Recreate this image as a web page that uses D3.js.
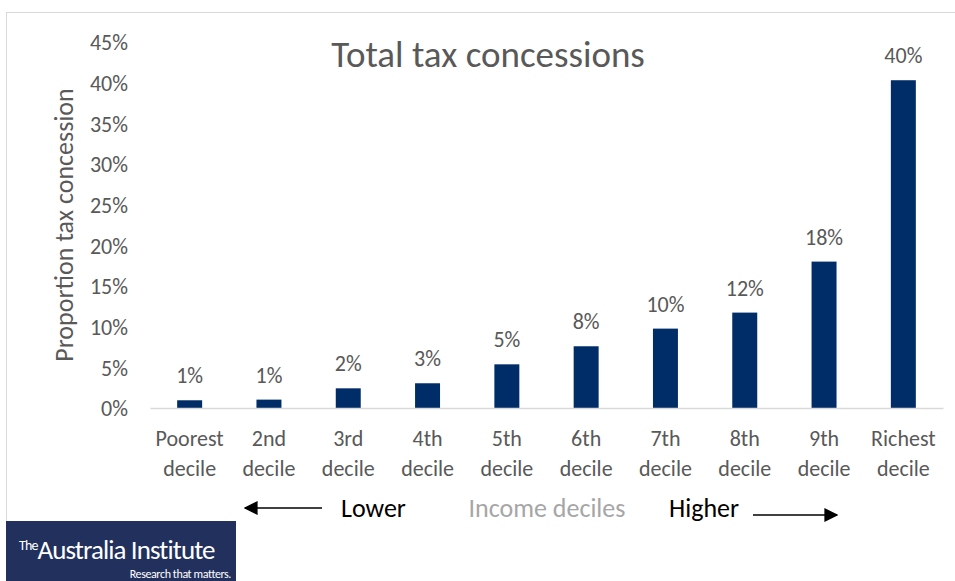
<!DOCTYPE html>
<html>
<head>
<meta charset="utf-8">
<script src="https://cdn.jsdelivr.net/npm/d3@7"></script>
<style>
  body { margin: 0; background: #fff; }
  svg text { font-family: Carlito, Calibri, Lato, sans-serif; }
</style>
</head>
<body>
<div id="chart"></div>
<script>
var categories = ["Poorest decile", "2nd decile", "3rd decile", "4th decile", "5th decile",
                  "6th decile", "7th decile", "8th decile", "9th decile", "Richest decile"];
var shares = [0.0095, 0.0103, 0.0242, 0.0304, 0.0537, 0.0759, 0.0976, 0.1173, 0.180, 0.403];
var yTicks = [0, 0.05, 0.10, 0.15, 0.20, 0.25, 0.30, 0.35, 0.40, 0.45];

var W = 955, H = 581;
var plotLeft = 150, plotRight = 943, plotTop = 42, base = 408;
var grey = "#595959", navy = "#002d67";

var svg = d3.select("#chart").append("svg")
    .attr("width", W)
    .attr("height", H);

// chart frame
svg.append("rect")
    .attr("x", 6.5).attr("y", 12.5)
    .attr("width", W + 10).attr("height", H)
    .attr("fill", "#fff")
    .attr("stroke", "#d9d9d9");

var x = d3.scaleBand()
    .domain(categories)
    .range([plotLeft, plotRight])
    .paddingInner(0.685)
    .paddingOuter(0.3425);

var y = d3.scaleLinear()
    .domain([0, 0.45])
    .range([base, plotTop]);

var pct = d3.format(".0%");

// y axis labels
var yAxis = svg.append("g")
    .attr("transform", "translate(" + 128 + ",0)")
    .call(d3.axisLeft(y).tickValues(yTicks).tickFormat(pct).tickSize(0).tickPadding(0));
yAxis.select(".domain").remove();
yAxis.selectAll("text")
    .attr("fill", grey)
    .style("font-size", "22px")
    .attr("dy", "0.35em");

// bars
svg.selectAll("rect.bar")
    .data(shares)
    .enter().append("rect")
    .attr("class", "bar")
    .attr("x", function(d, i) { return x(categories[i]); })
    .attr("y", function(d) { return y(d); })
    .attr("width", x.bandwidth())
    .attr("height", function(d) { return base - y(d); })
    .attr("fill", navy);

// value labels
svg.selectAll("text.val")
    .data(shares)
    .enter().append("text")
    .attr("class", "val")
    .attr("x", function(d, i) { return x(categories[i]) + x.bandwidth() / 2; })
    .attr("y", function(d) { return y(d) - 17; })
    .attr("text-anchor", "middle")
    .attr("fill", grey)
    .style("font-size", "22px")
    .text(function(d) { return pct(d); });

// baseline + category labels
var xAxis = svg.append("g")
    .attr("transform", "translate(0," + base + ")")
    .call(d3.axisBottom(x).tickSize(0).tickFormat(""));
xAxis.select(".domain").attr("stroke", "#d9d9d9").attr("stroke-width", 1.5);
xAxis.selectAll(".tick").each(function(d) {
  var words = d.split(" ");
  var t = d3.select(this).append("text")
      .attr("fill", grey)
      .attr("text-anchor", "middle")
      .style("font-size", "22px");
  t.append("tspan").attr("x", 0).attr("y", 38).text(words[0]);
  t.append("tspan").attr("x", 0).attr("y", 68).text(words[1]);
});

// title
svg.append("text")
    .attr("x", 488).attr("y", 67)
    .attr("text-anchor", "middle")
    .attr("fill", grey)
    .style("font-size", "37px")
    .text("Total tax concessions");

// y axis title
svg.append("text")
    .attr("transform", "translate(73," + 225 + ") rotate(-90)")
    .attr("text-anchor", "middle")
    .attr("fill", grey)
    .style("font-size", "26px")
    .text("Proportion tax concession");

// x axis title with arrows
svg.append("defs").append("marker")
    .attr("id", "head")
    .attr("viewBox", "0 0 10 10")
    .attr("refX", 9).attr("refY", 5)
    .attr("markerWidth", 14).attr("markerHeight", 14)
    .attr("markerUnits", "userSpaceOnUse")
    .attr("orient", "auto")
    .append("path").attr("d", "M0,0 L10,5 L0,10 Z").attr("fill", "#000");

svg.append("line")
    .attr("x1", 322).attr("y1", 508).attr("x2", 245).attr("y2", 508)
    .attr("stroke", "#000").attr("stroke-width", 1.5)
    .attr("marker-end", "url(#head)");
svg.append("line")
    .attr("x1", 753).attr("y1", 515).attr("x2", 837).attr("y2", 515)
    .attr("stroke", "#000").attr("stroke-width", 1.5)
    .attr("marker-end", "url(#head)");

svg.append("text").attr("x", 341).attr("y", 517)
    .attr("fill", "#000").style("font-size", "26px").text("Lower");
svg.append("text").attr("x", 547).attr("y", 517)
    .attr("text-anchor", "middle")
    .attr("fill", "#a6a6a6").style("font-size", "26px").text("Income deciles");
svg.append("text").attr("x", 669).attr("y", 517)
    .attr("fill", "#000").style("font-size", "26px").text("Higher");

// logo
var logo = svg.append("g");
logo.append("rect")
    .attr("x", 6).attr("y", 521)
    .attr("width", 230).attr("height", 60)
    .attr("fill", "#22305e");
var brand = logo.append("text")
    .attr("x", 19).attr("y", 559)
    .attr("fill", "#fff")
    .style("font-size", "27px")
    .style("letter-spacing", "-0.9px");
brand.append("tspan").style("font-size", "14px").attr("dy", -9).text("The");
brand.append("tspan").attr("dy", 9).text("Australia Institute");
logo.append("text")
    .attr("x", 231).attr("y", 578)
    .attr("text-anchor", "end")
    .attr("fill", "#fff")
    .style("font-size", "12px")
    .style("letter-spacing", "-0.4px")
    .text("Research that matters.");
</script>
</body>
</html>
